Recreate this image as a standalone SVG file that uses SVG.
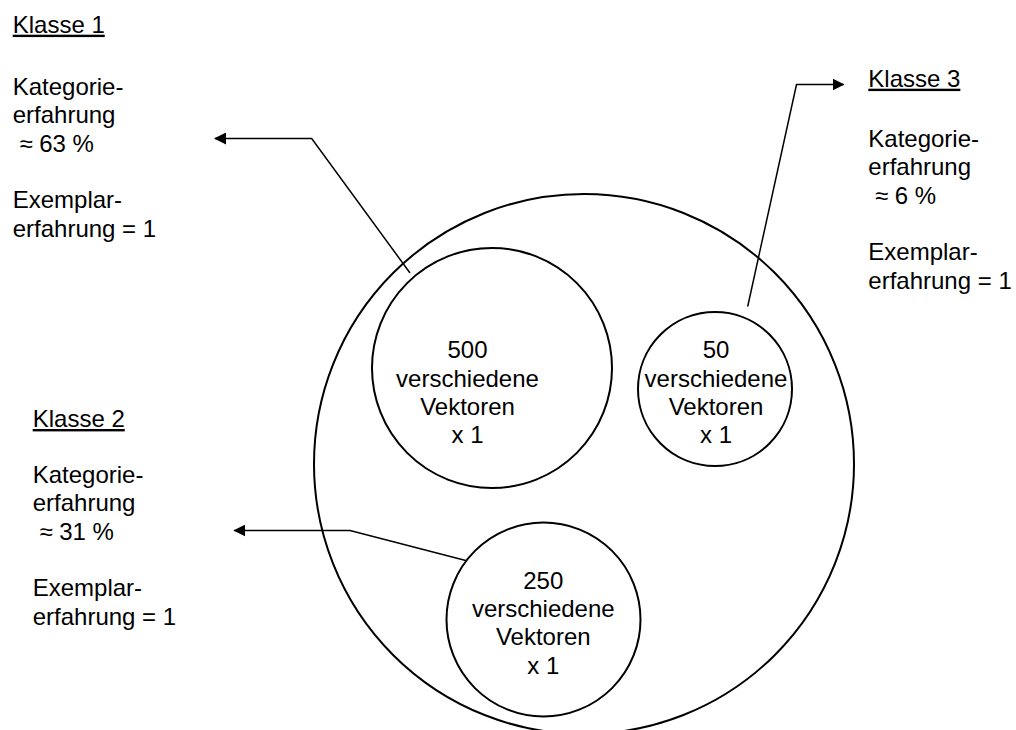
<svg xmlns="http://www.w3.org/2000/svg" width="1016" height="730" viewBox="0 0 1016 730">
  <style>
    text { font-family: "Liberation Sans", Arial, sans-serif; font-size: 24px; fill: #000; }
    .hdr { text-decoration: underline; }
    .mid { text-anchor: middle; }
    .ring { fill: none; stroke: #000; stroke-width: 2; }
    .conn { fill: none; stroke: #000; stroke-width: 1.5; }
  </style>
  <defs>
    <marker id="head" viewBox="0 0 12 12" refX="11" refY="6" markerWidth="12" markerHeight="12" markerUnits="userSpaceOnUse" orient="auto">
      <path d="M0,0 L12,6 L0,12 Z" fill="#000"/>
    </marker>
  </defs>
  <rect width="1016" height="730" fill="#fff"/>

  <!-- outer set -->
  <g id="gesamt">
    <circle class="ring" cx="584" cy="464" r="270"/>
  </g>

  <!-- class subsets -->
  <g id="menge500">
    <circle class="ring" cx="492" cy="368" r="120"/>
    <text class="mid" x="467.5" y="358.3">500</text>
    <text class="mid" x="467.5" y="386.6">verschiedene</text>
    <text class="mid" x="467.5" y="415">Vektoren</text>
    <text class="mid" x="467.5" y="443.2">x 1</text>
  </g>
  <g id="menge50">
    <circle class="ring" cx="715" cy="389" r="77"/>
    <text class="mid" x="716" y="358.3">50</text>
    <text class="mid" x="716" y="386.6">verschiedene</text>
    <text class="mid" x="716" y="415">Vektoren</text>
    <text class="mid" x="716" y="443.2">x 1</text>
  </g>
  <g id="menge250">
    <circle class="ring" cx="543.5" cy="619.5" r="97"/>
    <text class="mid" x="543.3" y="588.5">250</text>
    <text class="mid" x="543.3" y="617">verschiedene</text>
    <text class="mid" x="543.3" y="645">Vektoren</text>
    <text class="mid" x="543.3" y="673.5">x 1</text>
  </g>

  <!-- class labels -->
  <g id="klasse1">
    <text class="hdr" x="12.7" y="32.7">Klasse 1</text>
    <text x="12.7" y="95">Kategorie-</text>
    <text x="12.7" y="123.3">erfahrung</text>
    <text x="19.4" y="151.6">≈ 63 %</text>
    <text x="12.7" y="208.2">Exemplar-</text>
    <text x="12.7" y="236.5">erfahrung = 1</text>
  </g>
  <g id="klasse2">
    <text class="hdr" x="32.7" y="427">Klasse 2</text>
    <text x="32.7" y="483">Kategorie-</text>
    <text x="32.7" y="511.3">erfahrung</text>
    <text x="39.4" y="539.6">≈ 31 %</text>
    <text x="32.7" y="596.2">Exemplar-</text>
    <text x="32.7" y="624.5">erfahrung = 1</text>
  </g>
  <g id="klasse3">
    <text class="hdr" x="868.3" y="86.7">Klasse 3</text>
    <text x="868.3" y="147">Kategorie-</text>
    <text x="868.3" y="175.3">erfahrung</text>
    <text x="875" y="203.6">≈ 6 %</text>
    <text x="868.3" y="260.2">Exemplar-</text>
    <text x="868.3" y="288.5">erfahrung = 1</text>
  </g>

  <!-- leader arrows from subsets to labels -->
  <g id="connectors">
    <polyline class="conn" points="410,273 311.7,138.5 215,138.5" marker-end="url(#head)"/>
    <polyline class="conn" points="466.7,560.7 350,530.5 234.3,530.5" marker-end="url(#head)"/>
    <polyline class="conn" points="747.7,306.5 796.5,84.5 843.5,84.5" marker-end="url(#head)"/>
  </g>
</svg>
